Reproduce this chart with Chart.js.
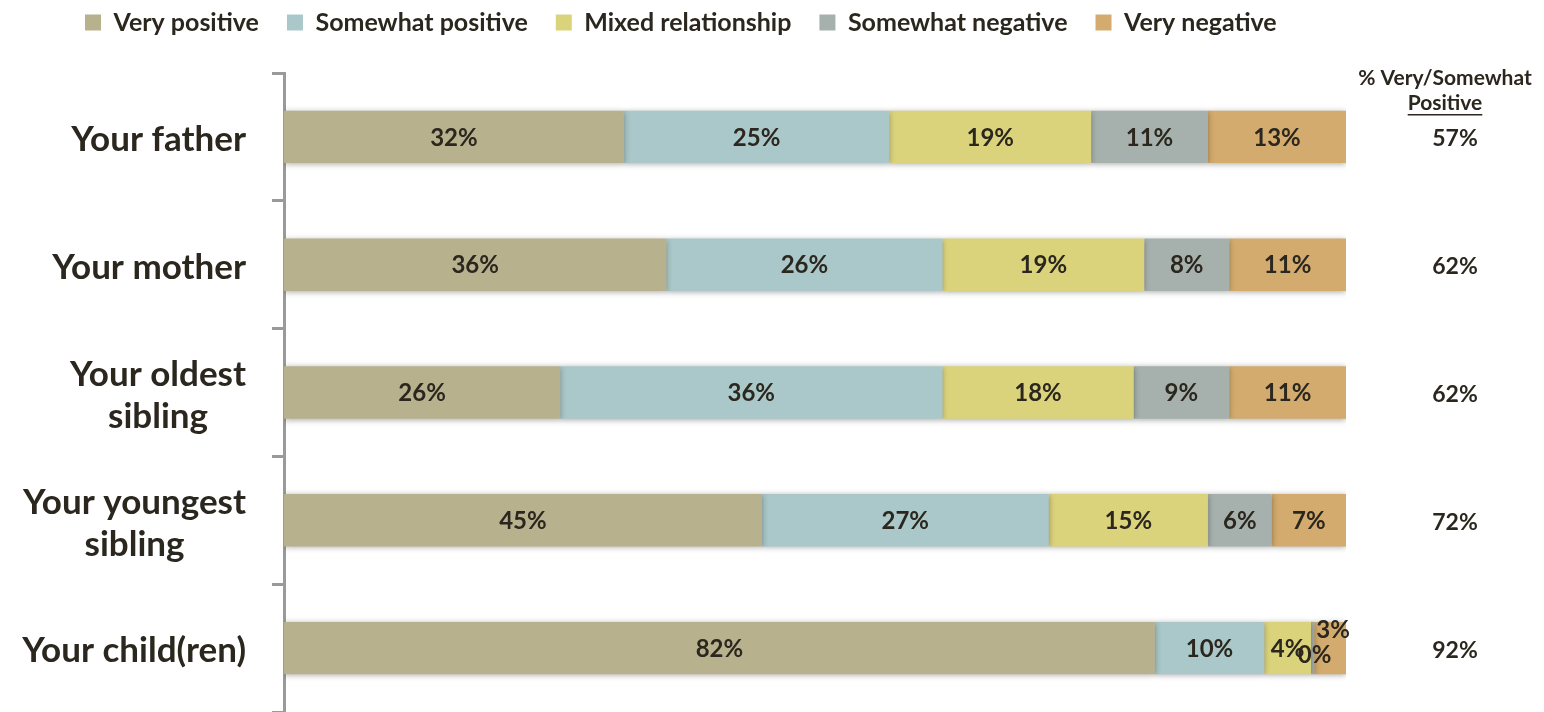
<!DOCTYPE html>
<html>
<head>
<meta charset="utf-8">
<script src="https://cdn.jsdelivr.net/npm/chart.js@4.4.1/dist/chart.umd.min.js"></script>
<style>
  html, body { margin: 0; padding: 0; background: #fff; }
  #wrap { width: 1544px; height: 712px; position: relative; }
</style>
</head>
<body>
<div id="wrap"><canvas id="chart"></canvas></div>
<script>
// categories and series
var categories = [['Your father'], ['Your mother'], ['Your oldest', 'sibling'], ['Your youngest', 'sibling'], ['Your child(ren)']];
var seriesNames = ['Very positive', 'Somewhat positive', 'Mixed relationship', 'Somewhat negative', 'Very negative'];
var veryPositive     = [32, 36, 26, 45, 82];
var somewhatPositive = [25, 26, 36, 27, 10.3];
var mixed            = [19, 19, 18, 15, 4.4];
var somewhatNegative = [11, 8, 9, 6, 0.3];
var veryNegative     = [13, 11, 11, 7, 3];
var colors = ['#b8b18d', '#aac8c9', '#dbd37c', '#a6b1ad', '#d3ab6e'];
var rightHeader = ['% Very/Somewhat', 'Positive'];

var textColor = '#2b271e';
var fontFamily = 'Lato, "Open Sans", sans-serif';
var legendPad = 28;
var leftPad = 57;

var seriesValues = [veryPositive, somewhatPositive, mixed, somewhatNegative, veryNegative];

// bar labels, y labels and the right hand column
var annotate = {
    id: 'annotate',
    beforeDatasetsDraw: (chart) => {
        chart.ctx.save();
        chart.ctx.shadowColor = 'rgba(0,0,0,0.35)';
        chart.ctx.shadowBlur = 6;
        chart.ctx.shadowOffsetY = 1;
    },
    afterDatasetsDraw: (chart) => {
        chart.ctx.restore();
    },
    afterDraw: (chart) => {
        var ctx = chart.ctx;
        var yScale = chart.scales.y;
        var area = chart.chartArea;
        ctx.save();
        ctx.fillStyle = textColor;
        ctx.textBaseline = 'middle';

        // values inside the bars
        ctx.font = 'bold 24px ' + fontFamily;
        ctx.textAlign = 'center';
        chart.data.datasets.forEach((ds, di) => {
            var meta = chart.getDatasetMeta(di);
            meta.data.forEach((bar, i) => {
                var x = (bar.x + bar.base) / 2;
                var y = bar.y + 1;
                var prev = di > 0 ? chart.data.datasets[di - 1].data[i] : 10;
                if (ds.data[i] < 1) { y += 6; x += 2; }
                else if (prev < 1) { y -= 19; x += 3; }
                ctx.fillText(Math.round(ds.data[i]) + '%', x, y);
            });
        });

        // category labels, right aligned block with centred lines
        ctx.font = 'bold 35px ' + fontFamily;
        categories.forEach((lines, i) => {
            var y = yScale.getPixelForValue(i);
            var w = Math.max.apply(null, lines.map(l => ctx.measureText(l).width));
            var cx = 246 - w / 2;
            var lh = 42;
            lines.forEach((l, j) => {
                ctx.fillText(l, cx, y + (j - (lines.length - 1) / 2) * lh + 3);
            });
        });

        // right column
        var colX = area.right + 99;
        ctx.font = 'bold 21px ' + fontFamily;
        ctx.fillText(rightHeader[0], colX, 78);
        ctx.fillText(rightHeader[1], colX, 103);
        var uw = ctx.measureText(rightHeader[1]).width;
        ctx.fillRect(colX - uw / 2, 114, uw, 1.5);
        ctx.font = 'bold 23px ' + fontFamily;
        categories.forEach((c, i) => {
            var pos = Math.round(veryPositive[i] + somewhatPositive[i]);
            ctx.fillText(pos + '%', colX + 10, yScale.getPixelForValue(i) + 2);
        });
        ctx.restore();
    }
};

// legend takes the top 73px, items pulled up to the top edge
var legendSpace = {
    id: 'legendSpace',
    beforeInit: (chart) => {
        var fit = chart.legend.fit;
        chart.legend.fit = function () {
            fit.bind(chart.legend)();
            this.height = 73;
        };
    },
    afterLayout: (chart) => {
        chart.legend.top = 10 - legendPad;
    }
};

var ctx = document.getElementById('chart').getContext('2d');
new Chart(ctx, {
    type: 'bar',
    data: {
        labels: categories.map(c => c.join(' ')),
        datasets: seriesNames.map((name, i) => ({
            label: name,
            data: seriesValues[i],
            backgroundColor: colors[i],
            borderWidth: 0,
            barPercentage: 0.41,
            categoryPercentage: 1
        }))
    },
    options: {
        indexAxis: 'y',
        responsive: true,
        maintainAspectRatio: false,
        animation: false,
        layout: { padding: { left: leftPad, right: 198, top: 0, bottom: 0 } },
        scales: {
            x: { stacked: true, display: false, min: 0, max: 100 },
            y: {
                stacked: true,
                afterFit: (scale) => { scale.width = 284 - leftPad; },
                ticks: { display: false },
                grid: {
                    display: true,
                    offset: true,
                    drawOnChartArea: false,
                    drawTicks: true,
                    tickLength: 12,
                    color: '#9a9a9a',
                    lineWidth: 3
                },
                border: { display: true, color: '#9a9a9a', width: 3 }
            }
        },
        plugins: {
            legend: {
                position: 'top',
                align: 'start',
                labels: {
                    boxWidth: 16,
                    boxHeight: 16,
                    padding: legendPad,
                    color: textColor,
                    font: { family: fontFamily, weight: 'bold', size: 25 }
                }
            },
            tooltip: { enabled: false }
        }
    },
    plugins: [annotate, legendSpace]
});
</script>
</body>
</html>
